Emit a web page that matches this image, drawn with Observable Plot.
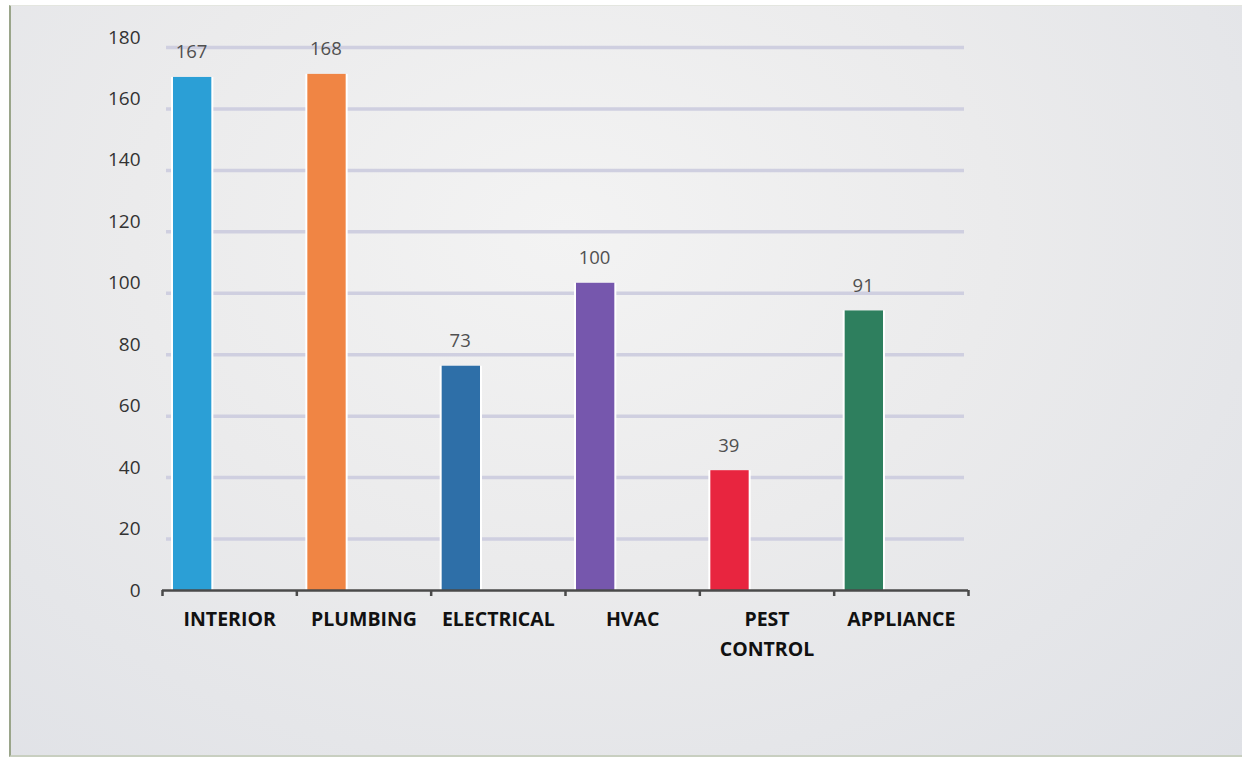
<!DOCTYPE html>
<html>
<head>
<meta charset="utf-8">
<script src="https://cdn.jsdelivr.net/npm/d3@7"></script>
<script src="https://cdn.jsdelivr.net/npm/@observablehq/plot@0.6"></script>
<style>
  html, body { margin: 0; padding: 0; background: #ffffff; }
  #frame {
    position: absolute; left: 9px; top: 5px; width: 1231px; height: 749px;
    border-left: 2px solid #9aa58a; border-bottom: 2px solid #c8cfc0; border-top: 1px solid #e4e6e0;
    background: radial-gradient(ellipse at 45% 30%, #f3f3f3 0%, #ebebec 45%, #dfe1e6 100%);
  }
  #chart { position: absolute; left: 0; top: 0; }
</style>
</head>
<body>
<div id="frame"></div>
<div id="chart"></div>
<script>
const categories = ["INTERIOR", "PLUMBING", "ELECTRICAL", "HVAC", "PEST\nCONTROL", "APPLIANCE"];
const values = [167, 168, 73, 100, 39, 91];
const colors = ["#2b9fd6", "#f08544", "#2e6fa8", "#7657ad", "#e8253f", "#2e7f5e"];
const yTicks = [0, 20, 40, 60, 80, 100, 120, 140, 160, 180];

const data = categories.map((c, i) => ({cat: c, value: values[i], color: colors[i], i}));
const bounds = d3.range(categories.length + 1);
const centers = categories.map((c, i) => i + 0.5);

const chart = Plot.plot({
  width: 1243,
  height: 758,
  marginLeft: 162,
  marginRight: 275,
  marginTop: 37,
  marginBottom: 168,
  style: {background: "transparent", overflow: "visible"},
  x: {type: "linear", domain: [0, categories.length], label: null},
  y: {domain: [0, 180], label: null},
  marks: [
    Plot.gridY(yTicks.slice(1), {stroke: "#cfcfe0", strokeOpacity: 1, strokeWidth: 3.5, dy: 10, insetLeft: 4, insetRight: 4}),
    Plot.axisY({ticks: yTicks, tickSize: 0, tickPadding: 22, fontSize: 19, fill: "#333", fontFamily: "Open Sans, sans-serif", label: null}),
    Plot.rectY(data, {x1: d => d.i, x2: d => d.i + 1, y: "value", fill: "white", insetLeft: 9, insetRight: 83}),
    Plot.rectY(data, {x1: d => d.i, x2: d => d.i + 1, y: "value", fill: "color", insetLeft: 11, insetRight: 85}),
    Plot.text(data, {x: d => d.i + 0.216, y: "value", text: d => String(d.value), dy: -25, fontSize: 18.5, fill: "#505050", fontFamily: "Open Sans, sans-serif"}),
    Plot.ruleY([0], {stroke: "#4a4a4a", strokeWidth: 2.5}),
    Plot.axisX({ticks: bounds, tickSize: 6, tickFormat: () => "", stroke: "#4a4a4a", strokeWidth: 2.5, label: null}),
    Plot.axisX({ticks: centers, tickSize: 0, tickPadding: 15, tickFormat: (d) => categories[Math.floor(d)], fontSize: 19.5, fontWeight: "bold", fill: "#111", fontFamily: "Open Sans, sans-serif", lineHeight: 1.5, label: null})
  ]
});
document.getElementById("chart").appendChild(chart);
</script>
</body>
</html>
